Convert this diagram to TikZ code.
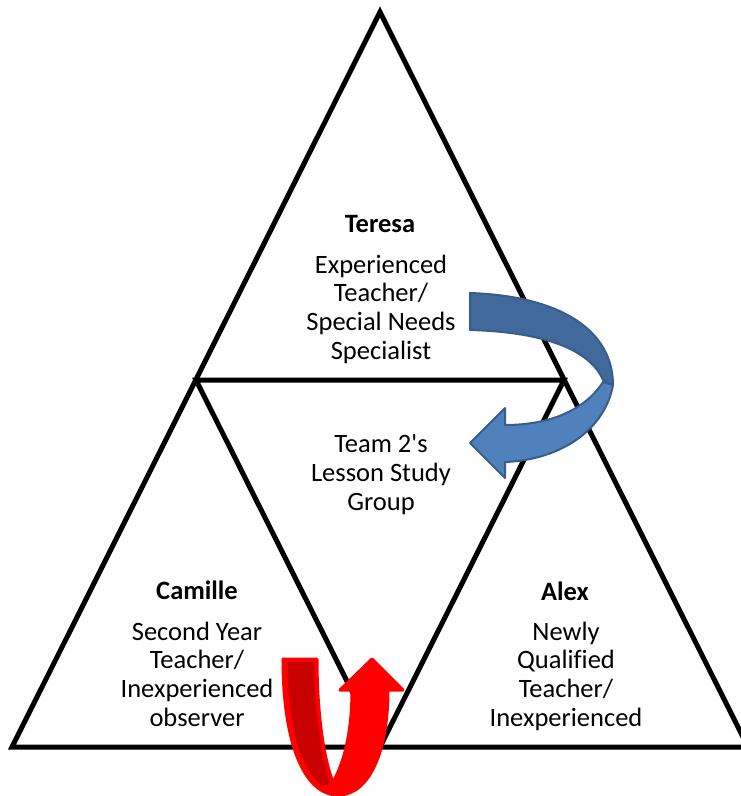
\documentclass[tikz,border=0pt]{standalone}
\usepackage{fontspec}
\setmainfont{Carlito}[Ligatures={TeXOff,NoCommon}]
\begin{document}
\begin{tikzpicture}[x=1pt,y=-1pt,
  tri/.style={line width=5pt,line join=miter},
  lbl/.style={align=center,inner sep=0pt,anchor=base,font=\fontsize{26.5}{28.8}\selectfont},
  ttl/.style={inner sep=0pt,anchor=base,font=\fontsize{26.5}{28.8}\selectfont\bfseries},
  bluedark/.style={fill=arrowdark,draw=arrowedge,line width=2pt,line join=round},
  bluelight/.style={fill=arrowlight,draw=arrowedge,line width=2pt,line join=round},
  redmain/.style={fill=red,draw=red,line width=3pt,line join=round},
  reddark/.style={fill=reddeep}]
\definecolor{arrowdark}{HTML}{41699B}
\definecolor{arrowlight}{HTML}{4F81BD}
\definecolor{arrowedge}{HTML}{385D8A}
\definecolor{reddeep}{HTML}{C80000}
\useasboundingbox (0,0) rectangle (741,796);
\clip (0,0) rectangle (741,796);
% triangles
\coordinate (A) at (380,12);
\coordinate (B) at (12,747);
\coordinate (C) at (748,747);
\coordinate (AB) at (196,380);
\coordinate (AC) at (564,380);
\coordinate (BC) at (380,747);
\draw[tri] (A) -- (B) -- (C) -- cycle;
\draw[tri] (AB) -- (AC) -- (BC) -- cycle;
% texts (anchor base = baseline of last line)
\node[ttl] (teresa) at (380,232) {Teresa};
\node[lbl] (teresatxt) at (381,359.4) {Experienced\\Teacher/\\Special Needs\\Specialist};
\node[lbl] (team) at (381,510) {Team 2's\\Lesson Study\\Group};
\node[ttl] (camille) at (197,599) {Camille};
\node[lbl] (camilletxt) at (197,726.4) {Second Year\\Teacher/\\Inexperienced\\observer};
\node[ttl] (alex) at (565,600) {Alex};
\node[lbl] (alextxt) at (566,726.4) {Newly\\Qualified\\Teacher/\\Inexperienced};
% blue curved arrow
\draw[bluelight] (603,382) .. controls (585,410) and (550,425) .. (505,425)
  -- (505,408) -- (470,443) -- (505,478) -- (505,462)
  .. controls (560,460) and (605,430) .. (613,385) -- cycle;
\draw[bluedark] (470,293) .. controls (560,296) and (613,330) .. (613,385)
  -- (603,380) .. controls (590,350) and (545,332) .. (470,330) -- cycle;
% red U arrow
\draw[redmain] (283,659) .. controls (283,745) and (305,795) .. (338,795)
  .. controls (370,795) and (388,750) .. (388,690)
  -- (403,690) -- (372,659) -- (340,690) -- (352,690)
  .. controls (352,735) and (343,765) .. (333,782)
  .. controls (324,760) and (317,715) .. (317,659) -- cycle;
\fill[reddark] (288,662) -- (314,662) .. controls (315,715) and (322,758) .. (330,784)
  -- (322,786) .. controls (305,770) and (288,740) .. (288,662) -- cycle;
\end{tikzpicture}
\end{document}
